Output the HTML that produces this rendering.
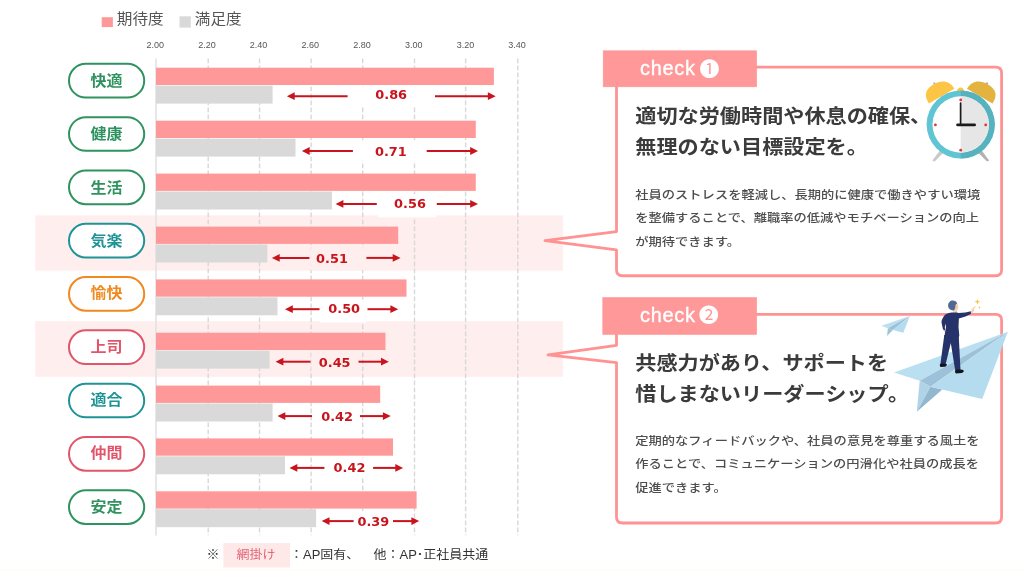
<!DOCTYPE html>
<html lang="ja"><head><meta charset="utf-8"><title>期待度・満足度</title>
<style>
html,body{margin:0;padding:0;background:#fff;}
body{width:1024px;height:576px;position:relative;overflow:hidden;font-family:"Liberation Sans","Noto Sans CJK JP",sans-serif;color:#444;}
.abs{position:absolute;}
svg.abs{left:0;top:0;}
.pilltx{position:absolute;left:68px;width:77px;height:36px;font-weight:bold;font-size:16px;line-height:36px;text-align:center;transform:scaleY(0.9);transform-origin:50% 50%;}
.val{position:absolute;width:60px;height:20px;line-height:20px;text-align:center;font-family:"DejaVu Sans","Liberation Sans",sans-serif;font-weight:bold;font-size:12.9px;color:#c8141c;}
.ax{position:absolute;top:36.6px;width:40px;text-align:center;font-size:9px;line-height:16px;color:#555;}
.tab{position:absolute;left:603px;width:153.5px;height:36px;color:#fff;font-size:20px;line-height:36px;}
.tab .ck{position:absolute;left:37px;top:-0.4px;letter-spacing:0.7px;-webkit-text-stroke:0.35px #fff;}
.tab .no{position:absolute;left:96.6px;top:0px;color:#fff;font-family:"Liberation Sans","Noto Sans CJK JP",sans-serif;font-size:20px;line-height:36px;transform:scaleY(0.94);transform-origin:50% 50%;}
.hd{position:absolute;left:635.3px;font-weight:bold;font-size:21.15px;line-height:33.6px;color:#3b3b3b;white-space:nowrap;transform:scaleY(0.91);transform-origin:0 0;}
.bd{position:absolute;left:635.3px;font-size:13.27px;line-height:26.9px;color:#4d4d4d;font-weight:500;white-space:nowrap;transform:scaleY(0.87);transform-origin:0 0;}
.lg{position:absolute;font-size:15.6px;line-height:20px;color:#555;white-space:nowrap;transform:scaleY(0.95);transform-origin:0 50%;}
.ft{position:absolute;font-size:13px;line-height:20px;color:#333;white-space:nowrap;transform:scaleY(0.92);transform-origin:0 50%;}
#wrap{position:absolute;left:0;top:0;width:1024px;height:576px;overflow:hidden;filter:blur(0.45px);}
</style></head><body><div id="wrap">

<svg class="abs" width="1024" height="576" viewBox="0 0 1024 576">
<rect x="35.2" y="215.3" width="527.7" height="55.4" fill="#ffeeee"/>
<rect x="35.2" y="321.2" width="527.7" height="55.6" fill="#ffeeee"/>
<line x1="208.2" y1="58.6" x2="208.2" y2="535.3" stroke="#d8d8d8" stroke-width="1.4" stroke-dasharray="4.7 2.3"/>
<line x1="259.5" y1="58.6" x2="259.5" y2="535.3" stroke="#d8d8d8" stroke-width="1.4" stroke-dasharray="4.7 2.3"/>
<line x1="311.1" y1="58.6" x2="311.1" y2="535.3" stroke="#d8d8d8" stroke-width="1.4" stroke-dasharray="4.7 2.3"/>
<line x1="362.7" y1="58.6" x2="362.7" y2="535.3" stroke="#d8d8d8" stroke-width="1.4" stroke-dasharray="4.7 2.3"/>
<line x1="414.5" y1="58.6" x2="414.5" y2="535.3" stroke="#d8d8d8" stroke-width="1.4" stroke-dasharray="4.7 2.3"/>
<line x1="465.6" y1="58.6" x2="465.6" y2="535.3" stroke="#d8d8d8" stroke-width="1.4" stroke-dasharray="4.7 2.3"/>
<line x1="517.8" y1="58.6" x2="517.8" y2="535.3" stroke="#d8d8d8" stroke-width="1.4" stroke-dasharray="4.7 2.3"/>
<line x1="156.0" y1="58.6" x2="156.0" y2="535.5" stroke="#e2e2e2" stroke-width="1.6"/>
<rect x="101.7" y="17.2" width="11.2" height="9.9" fill="#ff9999"/>
<rect x="179.5" y="16.3" width="11.3" height="11.3" fill="#d9d9d9"/>
<rect x="156.0" y="67.7" width="337.9" height="17.3" fill="#ff9999"/>
<rect x="156.0" y="85.6" width="116.6" height="18" fill="#d9d9d9"/>
<rect x="348.6" y="86.6" width="85.4" height="19.5" fill="#fff"/>
<rect x="69" y="63.85" width="75.2" height="33.7" rx="16.85" fill="#fff" stroke="#2f9360" stroke-width="2"/>
<rect x="156.0" y="120.7" width="319.8" height="17.3" fill="#ff9999"/>
<rect x="156.0" y="138.6" width="139.5" height="18" fill="#d9d9d9"/>
<rect x="353.9" y="141.4" width="71.8" height="19.5" fill="#fff"/>
<rect x="69" y="117.15" width="75.2" height="33.7" rx="16.85" fill="#fff" stroke="#2f9360" stroke-width="2"/>
<rect x="156.0" y="173.6" width="319.8" height="17.3" fill="#ff9999"/>
<rect x="156.0" y="191.5" width="175.9" height="18" fill="#d9d9d9"/>
<rect x="377.8" y="194.3" width="58.0" height="23" fill="#fff"/>
<rect x="69" y="170.45" width="75.2" height="33.7" rx="16.85" fill="#fff" stroke="#2f9360" stroke-width="2"/>
<rect x="156.0" y="226.6" width="242.2" height="17.3" fill="#ff9999"/>
<rect x="156.0" y="244.5" width="111.4" height="18" fill="#d9d9d9"/>
<rect x="310.4" y="248.3" width="55.0" height="22" fill="#ffeeee"/>
<rect x="69" y="223.75" width="75.2" height="33.7" rx="16.85" fill="#fff" stroke="#1f9496" stroke-width="2"/>
<rect x="156.0" y="279.4" width="250.5" height="17.3" fill="#ff9999"/>
<rect x="156.0" y="297.3" width="121.5" height="18" fill="#d9d9d9"/>
<rect x="320.5" y="299.6" width="46.0" height="23" fill="#fff"/>
<rect x="69" y="277.05" width="75.2" height="33.7" rx="16.85" fill="#fff" stroke="#f0891f" stroke-width="2"/>
<rect x="156.0" y="332.7" width="229.5" height="17.3" fill="#ff9999"/>
<rect x="156.0" y="350.6" width="113.6" height="18" fill="#d9d9d9"/>
<rect x="311.5" y="352.1" width="46.0" height="19.5" fill="#ffeeee"/>
<rect x="69" y="330.35" width="75.2" height="33.7" rx="16.85" fill="#fff" stroke="#e0556a" stroke-width="2"/>
<rect x="156.0" y="385.6" width="224.2" height="17.3" fill="#ff9999"/>
<rect x="156.0" y="403.5" width="116.6" height="18" fill="#d9d9d9"/>
<rect x="313.0" y="406.5" width="46.0" height="19.5" fill="#fff"/>
<rect x="69" y="383.65" width="75.2" height="33.7" rx="16.85" fill="#fff" stroke="#1f9496" stroke-width="2"/>
<rect x="156.0" y="438.4" width="237.0" height="17.3" fill="#ff9999"/>
<rect x="156.0" y="456.3" width="129.0" height="18" fill="#d9d9d9"/>
<rect x="325.4" y="458.3" width="46.7" height="19.5" fill="#fff"/>
<rect x="69" y="436.95" width="75.2" height="33.7" rx="16.85" fill="#fff" stroke="#e0556a" stroke-width="2"/>
<rect x="156.0" y="491.3" width="260.6" height="17.3" fill="#ff9999"/>
<rect x="156.0" y="509.2" width="160.1" height="18" fill="#d9d9d9"/>
<rect x="354.6" y="511.5" width="37.4" height="26" fill="#fff"/>
<rect x="69" y="490.25" width="75.2" height="33.7" rx="16.85" fill="#fff" stroke="#2f9360" stroke-width="2"/>
<path d="M292.9 96.2H347.6" stroke="#c8141c" stroke-width="2" fill="none"/>
<path d="M286.9 96.2l7.8 -3.9v7.8z" fill="#c8141c"/>
<path d="M435.0 96.2H489.7" stroke="#c8141c" stroke-width="2" fill="none"/>
<path d="M495.7 96.2l-7.8 -3.9v7.8z" fill="#c8141c"/>
<path d="M307.9 151.0H352.9" stroke="#c8141c" stroke-width="2" fill="none"/>
<path d="M301.9 151.0l7.8 -3.9v7.8z" fill="#c8141c"/>
<path d="M426.7 151.0H472.0" stroke="#c8141c" stroke-width="2" fill="none"/>
<path d="M478.0 151.0l-7.8 -3.9v7.8z" fill="#c8141c"/>
<path d="M341.6 203.9H376.8" stroke="#c8141c" stroke-width="2" fill="none"/>
<path d="M335.6 203.9l7.8 -3.9v7.8z" fill="#c8141c"/>
<path d="M436.8 203.9H472.0" stroke="#c8141c" stroke-width="2" fill="none"/>
<path d="M478.0 203.9l-7.8 -3.9v7.8z" fill="#c8141c"/>
<path d="M277.9 257.9H309.4" stroke="#c8141c" stroke-width="2" fill="none"/>
<path d="M271.9 257.9l7.8 -3.9v7.8z" fill="#c8141c"/>
<path d="M366.4 257.9H394.5" stroke="#c8141c" stroke-width="2" fill="none"/>
<path d="M400.5 257.9l-7.8 -3.9v7.8z" fill="#c8141c"/>
<path d="M291.0 309.2H319.5" stroke="#c8141c" stroke-width="2" fill="none"/>
<path d="M285.0 309.2l7.8 -3.9v7.8z" fill="#c8141c"/>
<path d="M367.5 309.2H392.2" stroke="#c8141c" stroke-width="2" fill="none"/>
<path d="M398.2 309.2l-7.8 -3.9v7.8z" fill="#c8141c"/>
<path d="M281.6 361.7H310.5" stroke="#c8141c" stroke-width="2" fill="none"/>
<path d="M275.6 361.7l7.8 -3.9v7.8z" fill="#c8141c"/>
<path d="M358.5 361.7H382.8" stroke="#c8141c" stroke-width="2" fill="none"/>
<path d="M388.8 361.7l-7.8 -3.9v7.8z" fill="#c8141c"/>
<path d="M283.5 416.1H312.0" stroke="#c8141c" stroke-width="2" fill="none"/>
<path d="M277.5 416.1l7.8 -3.9v7.8z" fill="#c8141c"/>
<path d="M360.0 416.1H384.7" stroke="#c8141c" stroke-width="2" fill="none"/>
<path d="M390.7 416.1l-7.8 -3.9v7.8z" fill="#c8141c"/>
<path d="M295.5 467.9H324.4" stroke="#c8141c" stroke-width="2" fill="none"/>
<path d="M289.5 467.9l7.8 -3.9v7.8z" fill="#c8141c"/>
<path d="M373.1 467.9H397.1" stroke="#c8141c" stroke-width="2" fill="none"/>
<path d="M403.1 467.9l-7.8 -3.9v7.8z" fill="#c8141c"/>
<path d="M327.7 521.1H353.6" stroke="#c8141c" stroke-width="2" fill="none"/>
<path d="M321.7 521.1l7.8 -3.9v7.8z" fill="#c8141c"/>
<path d="M393.0 521.1H413.2" stroke="#c8141c" stroke-width="2" fill="none"/>
<path d="M419.2 521.1l-7.8 -3.9v7.8z" fill="#c8141c"/>
<rect x="223.4" y="543.1" width="66.6" height="24.4" fill="#ffe8e8"/>
<path d="M616.5 231.6V67.2H995.6Q1001.6 67.2 1001.6 73.2V269.75Q1001.6 275.75 995.6 275.75H622.5Q616.5 275.75 616.5 269.75V249.8L545.0 240.7Z" fill="#fff" stroke="#ff9292" stroke-width="2.8" stroke-linejoin="round"/>
<path d="M616.5 345.3V314.3H995.6Q1001.6 314.3 1001.6 320.3V517.0Q1001.6 523.0 995.6 523.0H622.5Q616.5 523.0 616.5 517.0V362.6L548.0 354.8Z" fill="#fff" stroke="#ff9292" stroke-width="2.8" stroke-linejoin="round"/>
<rect x="603.2" y="50.8" width="153.4" height="36" fill="#ff9999" stroke="#ff9393" stroke-width="0.6"/>
<rect x="602.8" y="297.6" width="153.8" height="36.8" fill="#ff9999" stroke="#ff9393" stroke-width="0.6"/>
<rect x="0" y="570" width="1024" height="1" fill="#fffdf3"/>
</svg>
<div class="ax" style="left:135.2px">2.00</div>
<div class="ax" style="left:186.9px">2.20</div>
<div class="ax" style="left:238.6px">2.40</div>
<div class="ax" style="left:290.3px">2.60</div>
<div class="ax" style="left:342.0px">2.80</div>
<div class="ax" style="left:393.7px">3.00</div>
<div class="ax" style="left:445.4px">3.20</div>
<div class="ax" style="left:497.1px">3.40</div>
<div class="lg" style="left:116.8px;top:9px">期待度</div>
<div class="lg" style="left:194.8px;top:9px">満足度</div>
<div class="val" style="left:361.2px;top:85.4px">0.86</div>
<div class="pilltx" style="top:63.15px;color:#2f9360">快適</div>
<div class="val" style="left:360.9px;top:142.1px">0.71</div>
<div class="pilltx" style="top:116.45px;color:#2f9360">健康</div>
<div class="val" style="left:380.0px;top:194.3px">0.56</div>
<div class="pilltx" style="top:169.75px;color:#2f9360">生活</div>
<div class="val" style="left:302.0px;top:249.0px">0.51</div>
<div class="pilltx" style="top:223.05px;color:#1f9496">気楽</div>
<div class="val" style="left:314.2px;top:299.3px">0.50</div>
<div class="pilltx" style="top:276.35px;color:#f0891f">愉快</div>
<div class="val" style="left:304.7px;top:353.3px">0.45</div>
<div class="pilltx" style="top:329.65px;color:#e0556a">上司</div>
<div class="val" style="left:307.1px;top:406.5px">0.42</div>
<div class="pilltx" style="top:382.95px;color:#1f9496">適合</div>
<div class="val" style="left:319.5px;top:458.3px">0.42</div>
<div class="pilltx" style="top:436.25px;color:#e0556a">仲間</div>
<div class="val" style="left:343.4px;top:511.5px">0.39</div>
<div class="pilltx" style="top:489.55px;color:#2f9360">安定</div>
<div class="ft" style="left:206.5px;top:545px">※</div>
<div class="ft" style="left:236.5px;top:545px;color:#e06678">網掛け</div>
<div class="ft" style="left:290px;top:545px">：AP固有、</div>
<div class="ft" style="left:373.5px;top:545px">他：AP･正社員共通</div>
<div class="tab" style="top:50.8px"><span class="ck">check</span><span class="no" style="top:0px">❶</span></div>
<div class="tab" style="top:297.8px"><span class="ck">check</span><span class="no" style="left:95.7px;top:-1px">❷</span></div>
<div class="hd" style="top:100.6px">適切な労働時間や休息の確保、<br>無理のない目標設定を。</div>
<div class="hd" style="top:348.4px">共感力があり、サポートを<br>惜しまないリーダーシップ。</div>
<div class="bd" style="top:183.5px">社員のストレスを軽減し、長期的に健康で働きやすい環境<br>を整備することで、離職率の低減やモチベーションの向上<br>が期待できます。</div>
<div class="bd" style="top:430px">定期的なフィードバックや、社員の意見を尊重する風土を<br>作ることで、コミュニケーションの円滑化や社員の成長を<br>促進できます。</div>
<svg class="abs" style="left:0;top:0" width="1024" height="576" viewBox="0 0 1024 576">
<!-- alarm clock -->
<g>
<path d="M940.6 149.6l-8.2 10.8 2.2 1 9.6-9.4z" fill="#c9c9c9"/>
<path d="M981 149.6l8.2 10.8-2.2 1-9.6-9.4z" fill="#b3b3b3"/>
<rect x="933.5" y="82.2" width="2" height="3" fill="#b9b9b9" transform="rotate(-32 934.5 83.7)"/>
<rect x="985.7" y="82.2" width="2" height="3" fill="#a9a9a9" transform="rotate(32 986.7 83.7)"/>
<path d="M-14.7 0.5C-15.6 -9.6 -10 -13.6 -1 -13.6C8 -13.6 14.7 -9 14.7 0.5Z" fill="#fcc546" transform="translate(941.4 95.6) rotate(-30)"/>
<path d="M14.7 0.5C15.6 -9.6 10 -13.6 1 -13.6C-8 -13.6 -14.7 -9 -14.7 0.5Z" fill="#e3b23f" transform="translate(980 95.6) rotate(30)"/>
<path d="M956.6 92a4 4.4 0 0 1 8 0z" fill="#fcc546"/>
<circle cx="960.7" cy="124.5" r="34.1" fill="#5fc5d3"/>
<path d="M960.7 90.4a34.1 34.1 0 0 1 0 68.2z" fill="#57b2bf"/>
<circle cx="960.7" cy="124.5" r="28.2" fill="#ffffff"/>
<path d="M960.7 96.3a28.2 28.2 0 0 1 0 56.4z" fill="#e6e6e6"/>
<circle cx="960.7" cy="99.9" r="1.4" fill="#e0353d"/>
<circle cx="960.7" cy="150.2" r="1.4" fill="#e0353d"/>
<circle cx="935.4" cy="124.9" r="1.4" fill="#e0353d"/>
<circle cx="985.7" cy="124.9" r="1.4" fill="#e0353d"/>
<path d="M960.6 103V125" stroke="#1a1a1a" stroke-width="1.7" stroke-linecap="round" fill="none"/>
<path d="M957.6 124.9H974.6" stroke="#1a1a1a" stroke-width="2.8" stroke-linecap="round" fill="none"/>
</g>
<!-- small paper plane -->
<g>
<path d="M909.9 316.1L881.5 325.8 887.9 328.3z" fill="#b9dff0"/>
<path d="M909.9 316.1L887.9 328.3 892.9 330z" fill="#9bbfd6"/>
<path d="M887.9 328.3L887 335.9 892.9 330z" fill="#9fc4da"/>
<path d="M909.9 316.1L892.9 330 903.3 332.8z" fill="#b5dcee"/>
</g>
<!-- big paper plane -->
<g>
<path d="M1007.9 331.8L894 372.4 919.7 380.8z" fill="#badff0"/>
<path d="M1007.9 331.8L919.7 380.8 930.5 386.8z" fill="#9dc1d8"/>
<path d="M919.7 380.8L916.8 411.7 930.5 386.8z" fill="#afd4e8"/>
<path d="M930.5 386.8L916.8 411.7 942.3 389.4z" fill="#93b7ce"/>
<path d="M1007.9 331.8L930.5 386.8 982.2 399z" fill="#b5dcee"/>
</g>
<!-- person -->
<g>
<!-- legs -->
<path d="M944.3 335L940.4 363.9 945.6 364.6 950.8 343 955.2 370.4 960.5 370.2 958.7 335z" fill="#26336a"/>
<path d="M940 364.2C940.6 363.2 944.6 363.2 946.6 364 947.2 365 946.6 366.2 944.8 366.7L940.6 366.9C939.8 366.3 939.7 365 940 364.2z" fill="#14141c"/>
<path d="M955.2 370.4C956.4 369.4 961.6 369.2 963.4 370.2 964.2 371.2 963.6 372.4 961.6 373L956 373.4C955 372.6 954.8 371.4 955.2 370.4z" fill="#14141c"/>
<!-- hand on hip -->
<path d="M943.2 329.4l1.8 0.6 0.2 2.2-1.4-0.4z" fill="#f3d2b4"/>
<!-- neck/face -->
<path d="M953.6 308.5h3.4l0.4 5h-4.2z" fill="#f3d2b4"/>
<ellipse cx="955.4" cy="306.6" rx="2.9" ry="3.9" fill="#f3d2b4"/>
<!-- torso + arms -->
<path d="M951.6 312.4C947.6 312.8 945.4 313.8 943.8 316.2 942.4 318.4 941.4 320.6 941.5 322.4L943 329.6 945.2 330.4 944.8 327.4 945.5 323.4 946 327 944.3 337 958.8 337.2 959.3 335.6 958.5 327 958.9 318.5 965.5 316.5 971.2 313.7 971 311.2 965.4 312.4 958.6 313 956.6 312.4z" fill="#26336a"/>
<!-- pointing hand -->
<path d="M970.8 311.2L972.2 308.6 975.4 306 976 306.6 973.8 309 974.2 310.6 972.6 313 971 313.6z" fill="#f3d2b4"/>
<!-- hair -->
<path d="M948.1 305.6C948.1 302.6 950.2 300.5 952.8 300.5 955.2 300.5 957 302 957.2 303.6 955.6 304.2 955.2 305.6 955.4 307.4L954 310.4C950.6 310.8 948.1 308.6 948.1 305.6z" fill="#4f6992"/>
<!-- sparkles -->
<path d="M977.4 298.9l0.8 2.1 2.1 0.8-2.1 0.8-0.8 2.1-0.8-2.1-2.1-0.8 2.1-0.8z" fill="#f6c94c"/>
<path d="M979.5 306.1l0.45 1.05 1.05 0.45-1.05 0.45-0.45 1.05-0.45-1.05-1.05-0.45 1.05-0.45z" fill="#f6c94c"/>
</g>
</svg>

</div></body></html>
